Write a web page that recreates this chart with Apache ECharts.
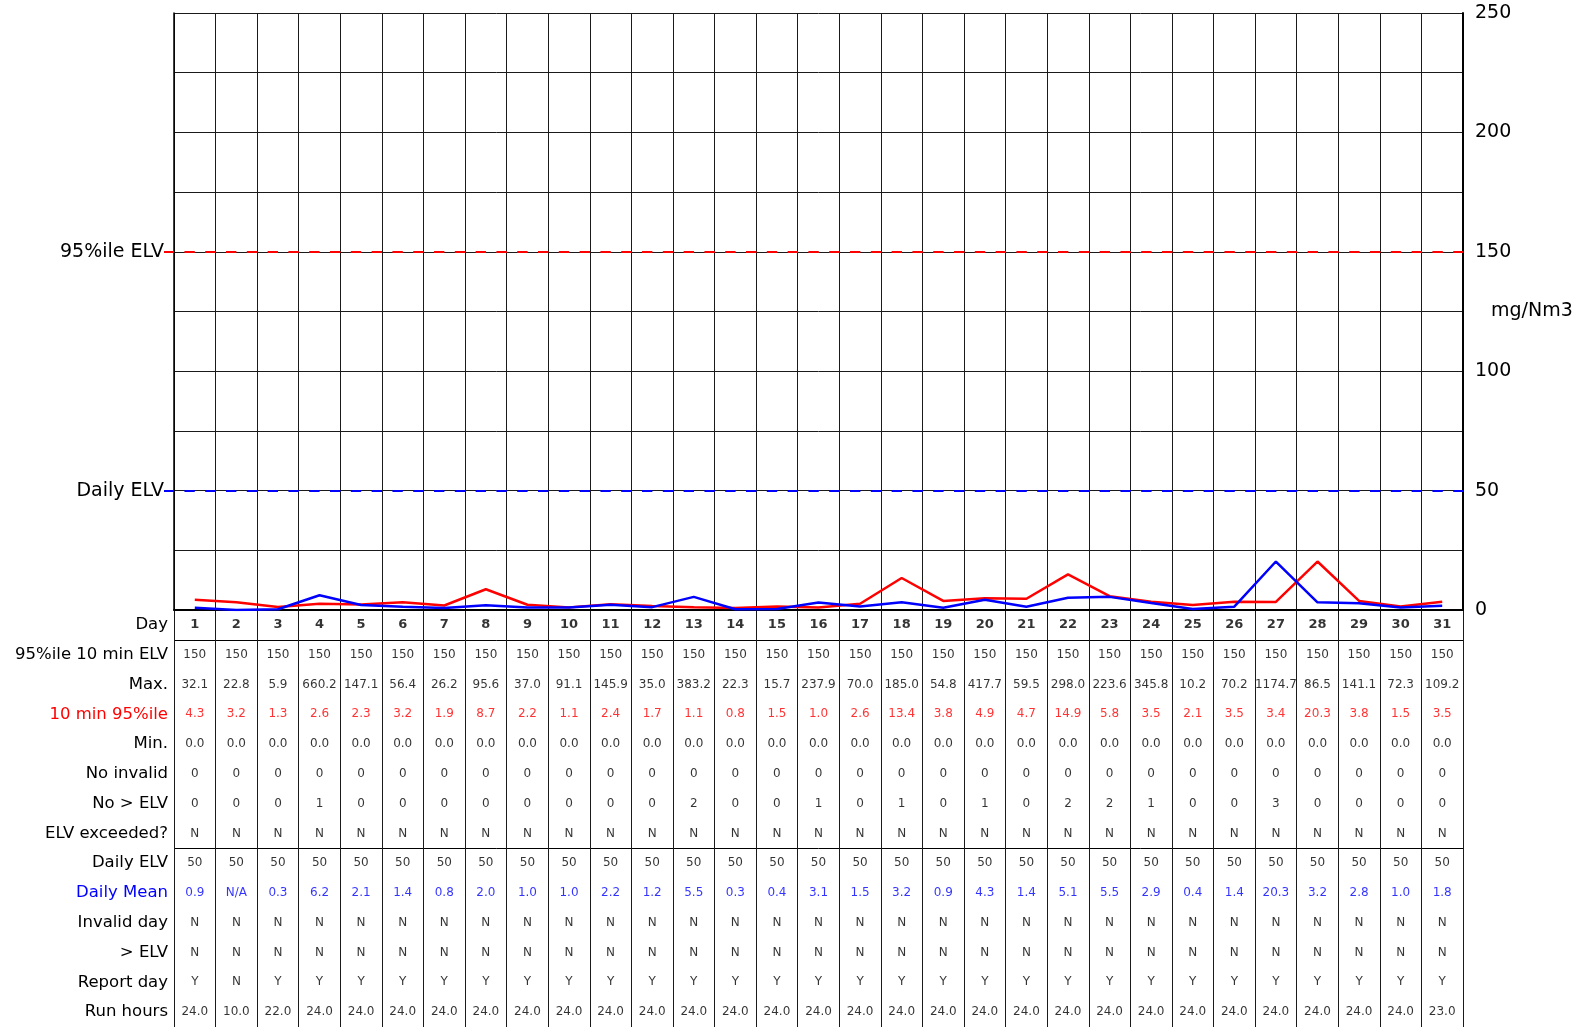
<!DOCTYPE html>
<html>
<head>
<meta charset="utf-8">
<title>Monthly emissions report</title>
<script src="https://cdn.jsdelivr.net/npm/echarts@6/dist/echarts.min.js"></script>
<style>
  html, body { margin: 0; padding: 0; background: #ffffff; }
  #chart { width: 1579px; height: 1027px; }
</style>
</head>
<body>
<div id="chart"></div>
<script>
// ---- Data ---------------------------------------------------------------
const days = [1, 2, 3, 4, 5, 6, 7, 8, 9, 10, 11, 12, 13, 14, 15, 16, 17, 18, 19, 20,
              21, 22, 23, 24, 25, 26, 27, 28, 29, 30, 31];

// Emission limits (mg/Nm3)
const limit95 = 150;
const limitDaily = 50;

const elv95Row = [150, 150, 150, 150, 150, 150, 150, 150, 150, 150, 150, 150, 150, 150, 150, 150,
                  150, 150, 150, 150, 150, 150, 150, 150, 150, 150, 150, 150, 150, 150, 150];
const maxValues = [32.1, 22.8, 5.9, 660.2, 147.1, 56.4, 26.2, 95.6, 37.0, 91.1, 145.9, 35.0, 383.2,
                   22.3, 15.7, 237.9, 70.0, 185.0, 54.8, 417.7, 59.5, 298.0, 223.6, 345.8, 10.2,
                   70.2, 1174.7, 86.5, 141.1, 72.3, 109.2];
const p95Values = [4.3, 3.2, 1.3, 2.6, 2.3, 3.2, 1.9, 8.7, 2.2, 1.1, 2.4, 1.7, 1.1, 0.8, 1.5, 1.0,
                   2.6, 13.4, 3.8, 4.9, 4.7, 14.9, 5.8, 3.5, 2.1, 3.5, 3.4, 20.3, 3.8, 1.5, 3.5];
const minValues = [0.0, 0.0, 0.0, 0.0, 0.0, 0.0, 0.0, 0.0, 0.0, 0.0, 0.0, 0.0, 0.0, 0.0, 0.0, 0.0,
                   0.0, 0.0, 0.0, 0.0, 0.0, 0.0, 0.0, 0.0, 0.0, 0.0, 0.0, 0.0, 0.0, 0.0, 0.0];
const noInvalid = [0, 0, 0, 0, 0, 0, 0, 0, 0, 0, 0, 0, 0, 0, 0, 0, 0, 0, 0, 0, 0, 0, 0, 0, 0, 0, 0, 0, 0, 0, 0];
const noAboveElv = [0, 0, 0, 1, 0, 0, 0, 0, 0, 0, 0, 0, 2, 0, 0, 1, 0, 1, 0, 1, 0, 2, 2, 1, 0, 0, 3, 0, 0, 0, 0];
const elvExceeded = ['N', 'N', 'N', 'N', 'N', 'N', 'N', 'N', 'N', 'N', 'N', 'N', 'N', 'N', 'N', 'N',
                     'N', 'N', 'N', 'N', 'N', 'N', 'N', 'N', 'N', 'N', 'N', 'N', 'N', 'N', 'N'];
const dailyElvRow = [50, 50, 50, 50, 50, 50, 50, 50, 50, 50, 50, 50, 50, 50, 50, 50,
                     50, 50, 50, 50, 50, 50, 50, 50, 50, 50, 50, 50, 50, 50, 50];
const dailyMean = [0.9, 'N/A', 0.3, 6.2, 2.1, 1.4, 0.8, 2.0, 1.0, 1.0, 2.2, 1.2, 5.5, 0.3, 0.4, 3.1,
                   1.5, 3.2, 0.9, 4.3, 1.4, 5.1, 5.5, 2.9, 0.4, 1.4, 20.3, 3.2, 2.8, 1.0, 1.8];
const invalidDay = ['N', 'N', 'N', 'N', 'N', 'N', 'N', 'N', 'N', 'N', 'N', 'N', 'N', 'N', 'N', 'N',
                    'N', 'N', 'N', 'N', 'N', 'N', 'N', 'N', 'N', 'N', 'N', 'N', 'N', 'N', 'N'];
const dayAboveElv = ['N', 'N', 'N', 'N', 'N', 'N', 'N', 'N', 'N', 'N', 'N', 'N', 'N', 'N', 'N', 'N',
                     'N', 'N', 'N', 'N', 'N', 'N', 'N', 'N', 'N', 'N', 'N', 'N', 'N', 'N', 'N'];
const reportDay = ['Y', 'N', 'Y', 'Y', 'Y', 'Y', 'Y', 'Y', 'Y', 'Y', 'Y', 'Y', 'Y', 'Y', 'Y', 'Y',
                   'Y', 'Y', 'Y', 'Y', 'Y', 'Y', 'Y', 'Y', 'Y', 'Y', 'Y', 'Y', 'Y', 'Y', 'Y'];
const runHours = [24.0, 10.0, 22.0, 24.0, 24.0, 24.0, 24.0, 24.0, 24.0, 24.0, 24.0, 24.0, 24.0, 24.0,
                  24.0, 24.0, 24.0, 24.0, 24.0, 24.0, 24.0, 24.0, 24.0, 24.0, 24.0, 24.0, 24.0, 24.0,
                  24.0, 24.0, 23.0];

const yTicks = [0, 50, 100, 150, 200, 250];

// ---- Styling ------------------------------------------------------------
const FONT = 'DejaVu Sans';
const RED = '#ff0000';
const BLUE = '#0000ff';
const INK = '#000000';
const GRIDLINE = '#1a1a1a';

const fmt1 = v => (typeof v === 'number' ? v.toFixed(1) : String(v));
const fmt0 = v => String(v);

// Rows of the summary table under the chart
const tableRows = [
  { label: 'Day', cells: days.map(fmt0), color: INK, bold: true },
  { label: '95%ile 10 min ELV', cells: elv95Row.map(fmt0), color: INK },
  { label: 'Max.', cells: maxValues.map(fmt1), color: INK },
  { label: '10 min 95%ile', cells: p95Values.map(fmt1), color: RED },
  { label: 'Min.', cells: minValues.map(fmt1), color: INK },
  { label: 'No invalid', cells: noInvalid.map(fmt0), color: INK },
  { label: 'No > ELV', cells: noAboveElv.map(fmt0), color: INK },
  { label: 'ELV exceeded?', cells: elvExceeded, color: INK },
  { label: 'Daily ELV', cells: dailyElvRow.map(fmt0), color: INK },
  { label: 'Daily Mean', cells: dailyMean.map(fmt1), color: BLUE },
  { label: 'Invalid day', cells: invalidDay, color: INK },
  { label: '> ELV', cells: dayAboveElv, color: INK },
  { label: 'Report day', cells: reportDay, color: INK },
  { label: 'Run hours', cells: runHours.map(fmt1), color: INK }
];

// Table cells positioned on the (day, row) category grid
const cellData = [];
tableRows.forEach((row, r) => {
  row.cells.forEach((text, d) => {
    cellData.push({
      name: text,
      value: [d, r],
      label: {
        color: row.color,
        fontWeight: row.bold ? 'bold' : 'normal',
        fontSize: row.bold ? 13 : 12
      }
    });
  });
});

// Day with no valid mean is drawn at zero
const dailyMeanPlot = dailyMean.map(v => (typeof v === 'number' ? v : 0));

// Threshold dashes: two per day column, each ending on the column line
const DASH = [10.4, 10.4];

const chart = echarts.init(document.getElementById('chart'), null, { renderer: 'canvas' });

const option = {
  backgroundColor: '#ffffff',
  animation: false,
  textStyle: { fontFamily: FONT },
  grid: [
    { left: 174, right: 116, top: 13, height: 597, outerBoundsMode: 'none', containLabel: false },
    { left: 174, right: 116, top: 610, bottom: 0, outerBoundsMode: 'none', containLabel: false }
  ],
  xAxis: [
    {
      gridIndex: 0,
      type: 'category',
      data: days,
      boundaryGap: true,
      axisLine: { show: true, lineStyle: { color: INK, width: 2 } },
      axisTick: { show: false },
      axisLabel: { show: false },
      splitLine: { show: true, lineStyle: { color: GRIDLINE, width: 1 } }
    },
    {
      gridIndex: 1,
      type: 'category',
      data: days,
      boundaryGap: true,
      axisLine: { show: false },
      axisTick: { show: false },
      axisLabel: { show: false },
      splitLine: { show: true, lineStyle: { color: GRIDLINE, width: 1 } }
    }
  ],
  yAxis: [
    {
      // measurement scale, right side
      gridIndex: 0,
      type: 'value',
      position: 'right',
      min: 0,
      max: 250,
      interval: 25,
      axisLine: { show: true, lineStyle: { color: INK, width: 2 } },
      axisTick: { show: false },
      axisLabel: {
        color: INK,
        fontSize: 19,
        fontFamily: FONT,
        margin: 12,
        formatter: v => (yTicks.indexOf(v) >= 0 ? String(v) : '')
      },
      splitLine: { show: true, lineStyle: { color: GRIDLINE, width: 1 } },
      name: 'mg/Nm3',
      nameLocation: 'middle',
      nameRotate: 0,
      nameGap: 28,
      nameMoveOverlap: false,
      nameTextStyle: { color: INK, fontSize: 19, fontFamily: FONT, align: 'left' }
    },
    {
      // 10 minute percentile limit marker, left side
      gridIndex: 0,
      type: 'value',
      position: 'left',
      min: 0,
      max: 250,
      axisLine: { show: true, lineStyle: { color: INK, width: 1.5 } },
      axisTick: { show: true, customValues: [limit95], length: 10, lineStyle: { color: RED, width: 2 } },
      axisLabel: {
        customValues: [limit95],
        color: INK,
        fontSize: 19,
        fontFamily: FONT,
        margin: 10,
        formatter: () => '95%ile ELV'
      },
      splitLine: { show: false }
    },
    {
      // daily limit marker, left side
      gridIndex: 0,
      type: 'value',
      position: 'left',
      min: 0,
      max: 250,
      axisLine: { show: false },
      axisTick: { show: true, customValues: [limitDaily], length: 10, lineStyle: { color: BLUE, width: 2 } },
      axisLabel: {
        customValues: [limitDaily],
        color: INK,
        fontSize: 19,
        fontFamily: FONT,
        margin: 10,
        formatter: () => 'Daily ELV'
      },
      splitLine: { show: false }
    },
    {
      // table rows
      gridIndex: 1,
      type: 'category',
      data: tableRows.map(r => r.label),
      inverse: true,
      boundaryGap: true,
      axisLine: { show: false },
      axisTick: { show: false },
      axisLabel: {
        fontSize: 16.5,
        fontFamily: FONT,
        margin: 6,
        color: (value, index) => tableRows[index].color
      },
      splitLine: {
        show: true,
        interval: idx => idx === 1 || idx === 8,
        lineStyle: { color: INK, width: 1 }
      }
    }
  ],
  series: [
    {
      name: '10 min 95%ile',
      type: 'line',
      xAxisIndex: 0,
      yAxisIndex: 0,
      data: p95Values,
      symbol: 'none',
      lineStyle: { color: RED, width: 2.5 },
      z: 3,
      markLine: {
        silent: true,
        symbol: ['none', 'none'],
        label: { show: false },
        lineStyle: { color: RED, width: 2, type: DASH, dashOffset: 10.4 },
        data: [{ yAxis: limit95 }]
      }
    },
    {
      name: 'Daily Mean',
      type: 'line',
      xAxisIndex: 0,
      yAxisIndex: 0,
      data: dailyMeanPlot,
      symbol: 'none',
      lineStyle: { color: BLUE, width: 2.5 },
      z: 4,
      markLine: {
        silent: true,
        symbol: ['none', 'none'],
        label: { show: false },
        lineStyle: { color: BLUE, width: 2, type: DASH, dashOffset: 10.4 },
        data: [{ yAxis: limitDaily }]
      }
    },
    {
      name: 'table',
      type: 'scatter',
      xAxisIndex: 1,
      yAxisIndex: 3,
      silent: true,
      symbolSize: 0,
      data: cellData,
      label: {
        show: true,
        position: 'inside',
        fontFamily: FONT,
        fontSize: 12,
        formatter: p => p.name
      }
    }
  ]
};

chart.setOption(option);
</script>
</body>
</html>
